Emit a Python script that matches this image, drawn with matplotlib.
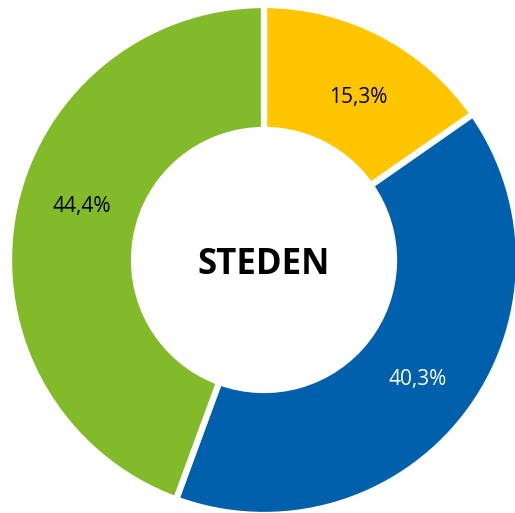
import matplotlib.pyplot as plt

labels = ["Yellow", "Blue", "Green"]
values = [15.3, 40.3, 44.4]
colors = ["#FFC600", "#0060AC", "#83BA2A"]
text_colors = ["black", "white", "black"]
# small nudges of the percentage labels, in pixels (dx, dy)
label_shift = [(6, -7), (2, -3), (6, 20)]
center_label = "STEDEN"

plt.rcParams['font.family'] = ['Open Sans', 'DejaVu Sans']

fig = plt.figure(figsize=(5.15, 5.13), dpi=100)
ax = fig.add_axes([0, 0, 1, 1])

cx, cy = 264, 513 - 260
R = 255
wedges, texts, autotexts = ax.pie(
    values, colors=colors, startangle=90, counterclock=False,
    center=(cx, cy), radius=R, frame=True,
    autopct=lambda p: f"{p:.1f}%".replace('.', ','),
    pctdistance=0.75,
    wedgeprops=dict(width=R - 130, edgecolor="white", linewidth=4.5),
    textprops=dict(fontsize=15),
)
for t, c, (dx, dy) in zip(autotexts, text_colors, label_shift):
    t.set_color(c)
    x, y = t.get_position()
    t.set_position((x + dx, y + dy))

ax.set_xlim(0, 515)
ax.set_ylim(0, 513)
ax.set_aspect('equal')
ax.axis('off')
ax.text(cx, cy - 5, center_label, ha='center', va='center',
        fontsize=25, fontweight='bold', color='black')

fig.savefig('out.png', dpi=100)
